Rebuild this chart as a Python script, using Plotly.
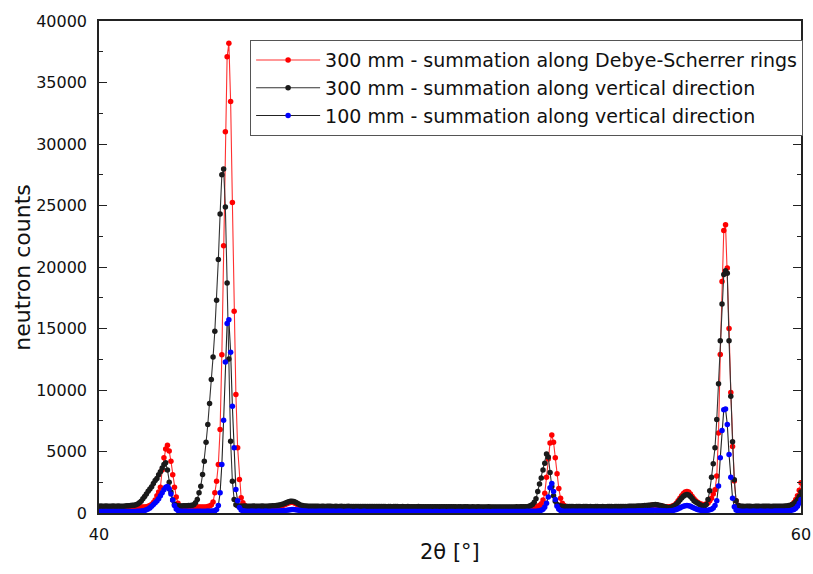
import numpy as np
import plotly.graph_objects as go

# 2theta grid (deg), step 0.05 from 40 to 60
two_theta = np.round(40 + 0.05 * np.arange(401), 2)

# 300 mm - summation along Debye-Scherrer rings (red)
red_counts = [
    450, 440, 445, 430, 440, 450, 435, 440, 445, 430, 440, 450, 440, 435, 445, 440, 430, 445, 440, 450,
    450, 460, 460, 470, 480, 480, 490, 510, 540, 600, 700, 850, 1050, 1400, 1700, 2100, 3500, 4500, 5200, 5500,
    5050, 4200, 3100, 2100, 1300, 800, 560, 490, 470, 460, 470, 460, 470, 480, 470, 480, 490, 480, 490, 480,
    480, 490, 520, 560, 650, 900, 1640, 2580, 3940, 6780, 12870, 21730, 31000, 37100, 38200, 33450, 25250, 16400, 9630, 5300,
    2720, 1230, 830, 600, 520, 500, 490, 480, 490, 480, 470, 480, 490, 480, 470, 480, 490, 480, 490, 480,
    490, 500, 520, 540, 570, 620, 690, 760, 820, 860, 870, 840, 780, 700, 620, 560, 520, 500, 480, 470,
    460, 470, 460, 450, 460, 470, 460, 450, 460, 450, 440, 450, 460, 450, 440, 450, 460, 450, 440, 450,
    450, 440, 450, 460, 450, 440, 450, 440, 430, 440, 450, 440, 430, 440, 450, 440, 430, 440, 450, 440,
    440, 430, 440, 450, 440, 430, 440, 430, 420, 430, 440, 430, 420, 430, 440, 430, 420, 430, 440, 430,
    430, 420, 430, 440, 430, 420, 430, 420, 430, 440, 430, 420, 430, 420, 410, 420, 430, 420, 410, 420,
    420, 430, 420, 410, 420, 430, 420, 410, 420, 430, 420, 410, 420, 430, 420, 410, 420, 410, 420, 430,
    420, 410, 420, 430, 420, 410, 420, 430, 420, 410, 420, 430, 420, 430, 420, 410, 420, 430, 440, 430,
    430, 440, 430, 440, 450, 440, 450, 460, 480, 500, 540, 610, 750, 1050, 1600, 2900, 4400, 5700, 6350, 5750,
    4500, 3200, 2000, 1200, 800, 600, 520, 480, 460, 450, 440, 450, 440, 430, 440, 450, 440, 430, 440, 450,
    440, 430, 440, 450, 440, 430, 440, 450, 440, 430, 440, 450, 440, 450, 460, 450, 440, 450, 460, 450,
    450, 460, 450, 460, 470, 460, 470, 480, 480, 490, 500, 520, 540, 570, 600, 630, 650, 660, 640, 610,
    580, 550, 520, 500, 490, 500, 530, 580, 650, 800, 1000, 1200, 1400, 1580, 1700, 1750, 1700, 1550, 1350, 1150,
    1000, 880, 790, 730, 700, 700, 730, 820, 1000, 1200, 1550, 1900, 3000, 6500, 12880, 18830, 22970, 23440, 19920, 15000,
    9800, 5400, 2600, 1000, 620, 520, 490, 480, 470, 460, 470, 460, 450, 460, 470, 460, 450, 460, 470, 460,
    460, 450, 460, 470, 460, 450, 460, 470, 480, 470, 480, 490, 510, 550, 600, 700, 850, 1100, 1400, 1850,
    2450,
]

# 300 mm - summation along vertical direction (black)
black_counts = [
    550, 560, 545, 555, 560, 550, 545, 555, 560, 550, 555, 560, 550, 545, 555, 560, 580, 590, 600, 620,
    640, 680, 740, 830, 950, 1150, 1350, 1550, 1770, 1950, 2130, 2400, 2650, 2800, 3100, 3350, 3650, 3950, 4080, 3500,
    2500, 1700, 1050, 720, 610, 580, 570, 575, 580, 585, 590, 600, 610, 630, 680, 830, 1100, 1640, 2180, 3130,
    4210, 5750, 7190, 8900, 10850, 12690, 14770, 17290, 20600, 24300, 27500, 27960, 24870, 18700, 12530, 5830, 2580, 1100, 680, 580,
    560, 555, 550, 560, 555, 550, 545, 555, 560, 550, 545, 550, 555, 560, 550, 545, 555, 560, 570, 580,
    590, 600, 620, 650, 690, 740, 800, 860, 910, 950, 960, 930, 870, 790, 710, 640, 600, 570, 560, 550,
    550, 545, 540, 550, 545, 540, 535, 545, 540, 535, 540, 545, 540, 535, 530, 540, 535, 530, 540, 535,
    530, 535, 540, 530, 525, 535, 530, 525, 530, 535, 530, 525, 520, 530, 525, 520, 530, 525, 520, 525,
    520, 525, 530, 520, 515, 525, 520, 515, 520, 525, 520, 515, 510, 520, 515, 510, 520, 515, 510, 515,
    510, 515, 520, 510, 505, 515, 510, 505, 510, 515, 510, 505, 500, 510, 505, 500, 510, 505, 500, 505,
    500, 505, 510, 500, 495, 505, 500, 495, 500, 505, 500, 495, 490, 500, 495, 490, 500, 495, 490, 495,
    490, 495, 500, 490, 485, 495, 490, 485, 490, 495, 490, 485, 490, 495, 490, 485, 490, 495, 500, 495,
    500, 505, 500, 510, 515, 540, 600, 700, 880, 1150, 1750, 2350, 2850, 3500, 4050, 4800, 4550, 3300, 2150, 1400,
    950, 700, 600, 560, 540, 530, 525, 520, 525, 530, 520, 515, 520, 525, 520, 515, 520, 525, 520, 515,
    520, 515, 510, 520, 525, 515, 510, 520, 515, 510, 520, 525, 520, 515, 520, 525, 530, 525, 530, 535,
    530, 535, 540, 545, 540, 550, 555, 560, 565, 575, 590, 600, 610, 625, 640, 660, 680, 690, 670, 640,
    600, 560, 520, 480, 450, 450, 470, 520, 600, 720, 880, 1050, 1220, 1360, 1460, 1500, 1460, 1340, 1170, 1000,
    900, 820, 720, 630, 570, 560, 700, 1100, 1800, 2900, 4000, 5300, 7600, 10500, 14000, 17000, 19400, 19700, 19500, 14000,
    9500, 5800, 2700, 1000, 620, 560, 545, 540, 535, 540, 545, 540, 535, 530, 540, 545, 540, 535, 540, 545,
    540, 545, 540, 535, 540, 545, 550, 545, 540, 550, 550, 560, 575, 600, 630, 690, 780, 920, 1100, 1350,
    1700,
]

# 100 mm - summation along vertical direction (blue)
blue_counts = [
    120, 125, 120, 115, 120, 125, 120, 115, 120, 125, 120, 115, 120, 125, 120, 115, 120, 125, 120, 125,
    125, 130, 135, 145, 160, 180, 210, 260, 320, 420, 550, 700, 830, 980, 1150, 1400, 1650, 1900, 2100, 2150,
    1950, 1550, 1050, 600, 320, 200, 160, 150, 145, 140, 145, 150, 145, 140, 145, 150, 145, 140, 145, 150,
    145, 150, 155, 150, 155, 160, 180, 280, 600, 1640, 3940, 7540, 12280, 15400, 15720, 13060, 8680, 5300, 1910, 1000,
    450, 250, 180, 160, 150, 145, 150, 155, 150, 145, 150, 155, 150, 145, 150, 155, 150, 145, 150, 155,
    150, 155, 160, 170, 180, 195, 210, 230, 250, 270, 280, 275, 260, 240, 220, 200, 180, 165, 155, 150,
    145, 140, 145, 150, 145, 140, 135, 140, 145, 140, 135, 140, 145, 140, 135, 130, 135, 140, 135, 130,
    130, 135, 140, 135, 130, 125, 130, 135, 130, 125, 130, 135, 130, 125, 120, 125, 130, 125, 120, 125,
    125, 130, 125, 120, 125, 130, 125, 120, 115, 120, 125, 120, 115, 120, 125, 120, 115, 120, 125, 120,
    120, 115, 120, 125, 120, 115, 120, 125, 120, 115, 110, 115, 120, 115, 110, 115, 120, 115, 110, 115,
    115, 120, 115, 110, 115, 120, 115, 110, 115, 120, 115, 110, 115, 120, 115, 110, 115, 120, 115, 110,
    115, 120, 115, 110, 115, 120, 115, 120, 125, 120, 115, 120, 125, 120, 115, 120, 125, 130, 125, 120,
    125, 130, 125, 130, 135, 130, 135, 140, 145, 150, 160, 180, 220, 300, 480, 800, 1300, 2050, 2400, 1750,
    1100, 550, 300, 200, 160, 150, 145, 140, 145, 140, 135, 140, 145, 140, 135, 140, 145, 140, 135, 140,
    140, 135, 140, 145, 140, 135, 140, 145, 140, 135, 140, 145, 150, 145, 140, 145, 150, 145, 150, 155,
    150, 155, 160, 155, 160, 165, 170, 175, 180, 185, 190, 195, 200, 205, 210, 215, 220, 225, 215, 205,
    195, 185, 175, 170, 170, 175, 185, 205, 240, 290, 350, 420, 490, 550, 590, 610, 590, 540, 470, 400,
    340, 290, 250, 220, 200, 200, 210, 230, 260, 300, 400, 600, 1000, 2200, 4500, 6700, 8400, 8450, 7200, 4750,
    2900, 1200, 500, 250, 180, 160, 150, 145, 150, 155, 150, 145, 150, 155, 150, 145, 150, 155, 150, 145,
    150, 155, 150, 145, 150, 155, 160, 155, 160, 165, 160, 165, 175, 190, 210, 240, 290, 390, 550, 800,
    1100,
]

series_names = [
    "300 mm - summation along Debye-Scherrer rings",
    "300 mm - summation along vertical direction",
    "100 mm - summation along vertical direction",
]
x_ticks = [40, 60]
x_title = "2θ [°]"
y_title = "neutron counts"

FONT = "DejaVu Sans, Liberation Sans, sans-serif"

fig = go.Figure()
styles = [
    (red_counts, "#ff3030", "#ff0000"),
    (black_counts, "#333333", "#1a1a1a"),
    (blue_counts, "#222222", "#0000ff"),
]
for (vals, lcol, mcol), name in zip(styles, series_names):
    fig.add_trace(go.Scatter(
        x=two_theta, y=vals, name=name, mode="lines+markers",
        line=dict(color=lcol, width=1.1),
        marker=dict(color=mcol, size=5.5, symbol="circle"),
    ))

fig.update_layout(
    width=813, height=574,
    margin=dict(l=99, r=10, t=21, b=61),
    paper_bgcolor="white", plot_bgcolor="white",
    font=dict(family=FONT, color="#111", size=16),
    showlegend=True,
    legend=dict(
        x=1.003, xanchor="right", y=0.961, yanchor="top",
        bordercolor="#555", borderwidth=1, bgcolor="white",
        font=dict(size=19, family=FONT, color="#111"),
        itemwidth=64, tracegroupgap=0,
    ),
    annotations=[
        dict(text=x_title, xref="paper", yref="paper", x=0.5, y=-0.079,
             xanchor="center", yanchor="middle", showarrow=False,
             font=dict(size=21, family=FONT, color="#111")),
        dict(text=y_title, xref="paper", yref="paper", x=-0.11, y=0.5,
             xanchor="center", yanchor="middle", showarrow=False, textangle=-90,
             font=dict(size=22, family=FONT, color="#111")),
    ],
)
fig.update_xaxes(
    range=[40, 60], tickvals=x_ticks, ticktext=[str(t) for t in x_ticks],
    ticks="inside", ticklen=8, tickwidth=1.2, tickcolor="#222",
    showline=True, linewidth=1.5, linecolor="#222", mirror="allticks",
    showgrid=False, zeroline=False, automargin=False,
    ticklabelstandoff=6,
    tickfont=dict(size=16, family=FONT),
)
fig.update_yaxes(
    range=[0, 40000], dtick=5000, tickformat="d",
    ticks="inside", ticklen=8, tickwidth=1.2, tickcolor="#222",
    minor=dict(dtick=2500, ticks="inside", ticklen=4, tickwidth=1.2, tickcolor="#222"),
    showline=True, linewidth=1.5, linecolor="#222", mirror="allticks",
    showgrid=False, zeroline=False, automargin=False,
    ticklabelstandoff=7,
    tickfont=dict(size=16, family=FONT),
)

fig.write_html("out.html")
